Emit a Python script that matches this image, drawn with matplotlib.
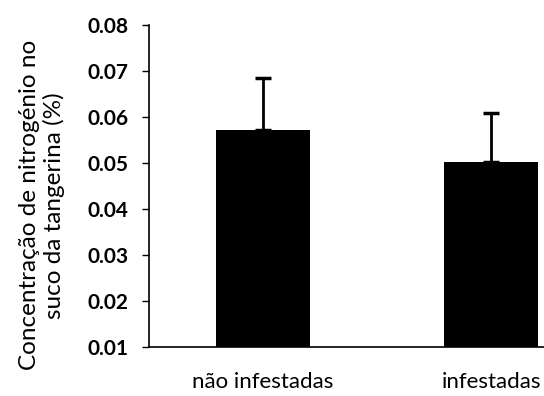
import matplotlib.pyplot as plt

categorias = ['não infestadas', 'infestadas']
medias = [0.0572, 0.0502]
erros = [0.0113, 0.0107]

plt.rcParams['font.family'] = ['Lato', 'DejaVu Sans']

fig = plt.figure(figsize=(5.44, 3.96), dpi=100)
ax = fig.add_axes([149/544, 49/396, 456/544, 322/396])

x = range(len(categorias))
ax.bar(x, medias, width=0.41, color='black', zorder=2)
ax.errorbar(x, medias, yerr=[[0, 0], erros], fmt='none', ecolor='black',
            elinewidth=2, capsize=6, capthick=2.5, zorder=3)

ax.set_ylim(0.01, 0.08)
ax.set_xlim(-0.5, 1.5)
ax.set_yticks([0.01, 0.02, 0.03, 0.04, 0.05, 0.06, 0.07, 0.08])
ax.set_yticklabels(['0.01', '0.02', '0.03', '0.04', '0.05', '0.06', '0.07', '0.08'],
                   fontsize=15, fontweight='bold')
ax.set_xticks(list(x))
ax.set_xticklabels(categorias, fontsize=16)
ax.tick_params(axis='x', length=0, pad=18)
ax.tick_params(axis='y', direction='out', length=5, width=1, pad=10)

ax.spines['top'].set_visible(False)
ax.spines['right'].set_visible(False)
ax.spines['left'].set_linewidth(1.2)
ax.spines['bottom'].set_linewidth(1.2)

ax.set_ylabel('Concentração de nitrogénio no\nsuco da tangerina (%)', fontsize=17.5,
              linespacing=1.15)
ax.yaxis.set_label_coords(-0.185, 0.44)

fig.savefig('out.png', dpi=100)
